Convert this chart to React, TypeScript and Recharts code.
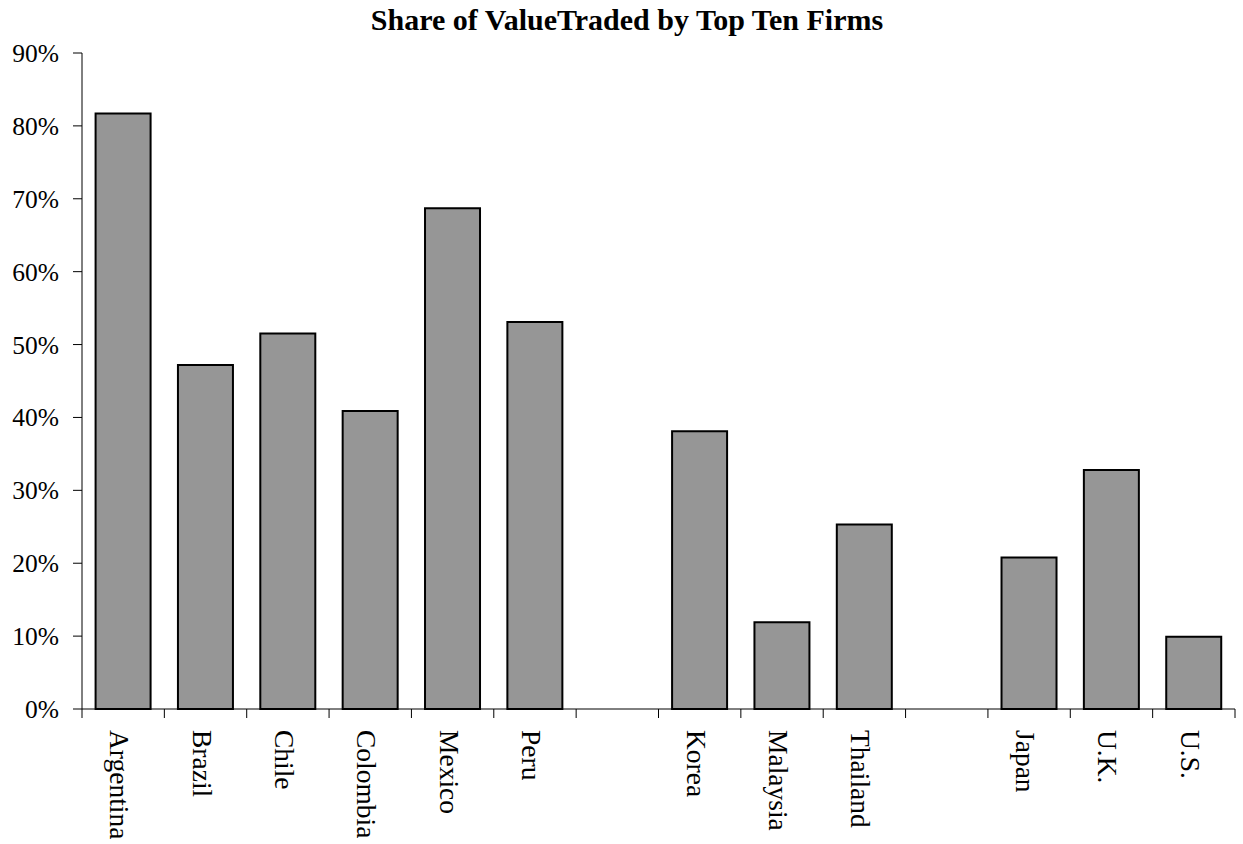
import React from 'react';
import { BarChart, Bar, XAxis, YAxis } from 'recharts';

const countries = ['Argentina', 'Brazil', 'Chile', 'Colombia', 'Mexico', 'Peru', '', 'Korea', 'Malaysia', 'Thailand', '', 'Japan', 'U.K.', 'U.S.'];
const shares: (number | null)[] = [0.817, 0.472, 0.515, 0.409, 0.687, 0.531, null, 0.381, 0.119, 0.253, null, 0.208, 0.328, 0.099];
const yTicks = [0, 0.1, 0.2, 0.3, 0.4, 0.5, 0.6, 0.7, 0.8, 0.9];
const title = 'Share of ValueTraded by Top Ten Firms';

const data = countries.map((c, i) => ({ name: c, share: shares[i] }));

const W = 1243;
const H = 844;
const MARGIN = { top: 53, right: 8, left: 0, bottom: 0 };
const Y_W = 82;
const X_H = 135;
const BAND = (W - MARGIN.left - Y_W - MARGIN.right) / countries.length;
const FONT = '"Times New Roman", "Liberation Serif", serif';

const XTick = (props: any) => {
  const { x, y, payload, index } = props;
  const left = x - BAND / 2;
  return (
    <g>
      <line x1={left} x2={left} y1={y} y2={y + 9} stroke="#000" strokeWidth={1} />
      {index === countries.length - 1 && (
        <line x1={x + BAND / 2} x2={x + BAND / 2} y1={y} y2={y + 9} stroke="#000" strokeWidth={1} />
      )}
      <text
        transform={`translate(${x - 13},${y + 21}) rotate(90)`}
        fontSize={27.5}
        fontFamily={FONT}
        fill="#000"
        textAnchor="start"
      >
        {payload.value}
      </text>
    </g>
  );
};

export default function App() {
  return (
    <div style={{ position: 'absolute', left: 0, top: 0, width: W, height: H, background: '#fff' }}>
      <BarChart width={W} height={H} data={data} margin={MARGIN} barCategoryGap="16.5%">
        <XAxis
          dataKey="name"
          height={X_H}
          interval={0}
          tickLine={false}
          tickSize={0}
          tickMargin={0}
          axisLine={{ stroke: '#000', strokeWidth: 1 }}
          tick={<XTick />}
        />
        <YAxis
          width={Y_W}
          domain={[0, 0.9]}
          ticks={yTicks}
          interval={0}
          tickFormatter={(v: number) => `${Math.round(v * 100)}%`}
          tickSize={9}
          tickMargin={14}
          axisLine={{ stroke: '#000', strokeWidth: 1 }}
          tickLine={{ stroke: '#000', strokeWidth: 1 }}
          tick={{ fontSize: 25.5, fill: '#000', fontFamily: FONT }}
        />
        <Bar dataKey="share" fill="#969696" stroke="#000" strokeWidth={2} isAnimationActive={false} />
      </BarChart>
      <svg width={W} height={H} style={{ position: 'absolute', left: 0, top: 0, pointerEvents: 'none' }}>
        <text x={627} y={30} textAnchor="middle" fontSize={30} fontWeight="bold" fontFamily={FONT} fill="#000">
          {title}
        </text>
      </svg>
    </div>
  );
}
